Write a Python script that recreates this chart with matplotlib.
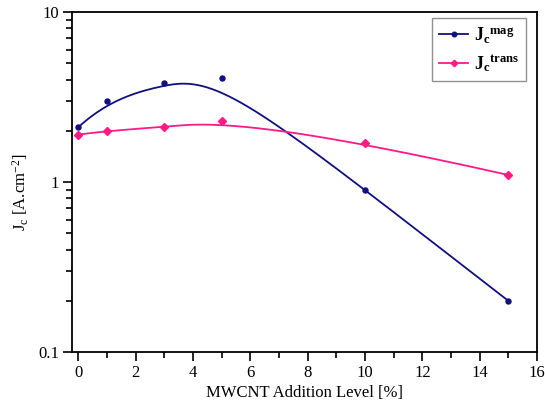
import numpy as np
import matplotlib
matplotlib.use("Agg")
import matplotlib.pyplot as plt
from matplotlib.ticker import FixedLocator, NullFormatter, FixedFormatter

# MWCNT addition level (%) and critical current densities (A/cm^2)
mwcnt = [0, 1, 3, 5, 10, 15]
jc_mag = [2.1, 3.0, 3.8, 4.1, 0.9, 0.2]
jc_trans = [1.9, 2.0, 2.1, 2.3, 1.7, 1.1]

x_ticks = [0, 2, 4, 6, 8, 10, 12, 14, 16]
y_ticks = [0.1, 1, 10]
y_tick_labels = ["0.1", "1", "10"]

NAVY = "#10107f"
PINK = "#ff1a86"

plt.rcParams["font.family"] = ["Liberation Serif", "DejaVu Serif"]
plt.rcParams["mathtext.fontset"] = "custom"
plt.rcParams["mathtext.rm"] = "Liberation Serif"
plt.rcParams["mathtext.it"] = "Liberation Serif:italic"
plt.rcParams["mathtext.bf"] = "Liberation Serif:bold"


def bspline(px, py, n=400, k=3):
    """Clamped B-spline using the data points as control points."""
    px = np.asarray(px, float)
    py = np.asarray(py, float)
    m = len(px)
    inner = np.linspace(0, 1, m - k + 1)
    knots = np.concatenate([[0] * k, inner, [1] * k])
    t = np.linspace(0, 1 - 1e-9, n)
    out_x, out_y = [], []
    for tv in t:
        # Cox-de Boor basis
        N = np.array([1.0 if knots[i] <= tv < knots[i + 1] else 0.0
                      for i in range(len(knots) - 1)])
        for d in range(1, k + 1):
            Nn = np.zeros(len(knots) - 1 - d)
            for i in range(len(Nn)):
                a = 0.0
                if knots[i + d] != knots[i]:
                    a = (tv - knots[i]) / (knots[i + d] - knots[i]) * N[i]
                b = 0.0
                if knots[i + d + 1] != knots[i + 1]:
                    b = (knots[i + d + 1] - tv) / (knots[i + d + 1] - knots[i + 1]) * N[i + 1]
                Nn[i] = a + b
            N = Nn
        out_x.append(np.dot(N[:m], px))
        out_y.append(np.dot(N[:m], py))
    out_x.append(px[-1])
    out_y.append(py[-1])
    return np.array(out_x), np.array(out_y)


fig = plt.figure(figsize=(5.45, 4.17), dpi=100)
ax = fig.add_axes([72 / 545, 1 - 352 / 417, (537 - 72) / 545, (352 - 12) / 417])

for yv, col, mk in [(jc_mag, NAVY, "o"), (jc_trans, PINK, "D")]:
    sx, sy = bspline(mwcnt, np.log10(yv))
    ax.plot(sx, 10 ** sy, color=col, lw=1.3)
    ax.plot(mwcnt, yv, ls="none", marker=mk, ms=3.6, color=col, mec=col)

ax.set_yscale("log")
ax.set_xlim(-0.22, 16)
ax.set_ylim(0.1, 10)

ax.xaxis.set_major_locator(FixedLocator(x_ticks))
ax.xaxis.set_minor_locator(FixedLocator(np.arange(1, 16, 2)))
ax.yaxis.set_major_locator(FixedLocator(y_ticks))
ax.yaxis.set_major_formatter(FixedFormatter(y_tick_labels))
minor_y = [m * 10.0 ** e for e in (-1, 0) for m in range(2, 10)]
ax.yaxis.set_minor_locator(FixedLocator(minor_y))
ax.yaxis.set_minor_formatter(NullFormatter())

ax.tick_params(which="major", direction="out", length=6.5, width=1.2,
               labelsize=12, top=False, right=False, pad=3)
ax.tick_params(which="minor", direction="out", length=4, width=1.2,
               top=False, right=False)
for s in ax.spines.values():
    s.set_linewidth(1.3)

ax.set_xlabel("MWCNT Addition Level [%]", fontsize=12, labelpad=3)
ax.set_ylabel(r"J$_\mathregular{c}$ [A.cm$^\mathregular{-2}$]", fontsize=12)
ax.yaxis.set_label_coords(-0.088, 0.47)

h1, = ax.plot([], [], color=NAVY, lw=1.3, marker="o", ms=3.3)
h2, = ax.plot([], [], color=PINK, lw=1.3, marker="D", ms=3.3)
leg = ax.legend([h1, h2],
                [r"$\mathbf{J}_\mathbf{c}{}^\mathbf{mag}$",
                 r"$\mathbf{J}_\mathbf{c}{}^\mathbf{trans}$"],
                loc="upper right", bbox_to_anchor=(0.976, 0.982),
                fontsize=13, frameon=True, fancybox=False, handlelength=1.6,
                handletextpad=0.3, borderpad=0.4, labelspacing=0.45,
                borderaxespad=0)
leg.get_frame().set_edgecolor("#777777")
leg.get_frame().set_linewidth(1.0)

fig.savefig("out.png", dpi=100)
